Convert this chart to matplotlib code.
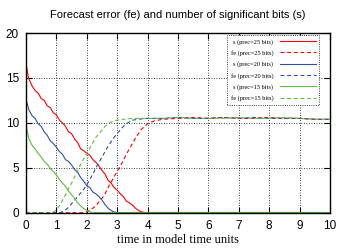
import numpy as np
import matplotlib
matplotlib.use("Agg")
import matplotlib.pyplot as plt

# significant bits (s)
t_s25 = [0, 0.03, 0.08, 0.15, 0.2, 0.3, 0.4, 0.5, 0.6, 0.7, 0.8, 0.9, 1.0, 1.1, 1.2, 1.3, 1.4,
         1.5, 1.6, 1.7, 1.8, 1.9, 2.0, 2.1, 2.2, 2.3, 2.4, 2.5, 2.6, 2.7, 2.8, 2.9, 3.0,
         3.1, 3.2, 3.3, 3.4, 3.5, 3.6, 3.7, 3.8, 3.9, 4.0, 10]
s25 = [16.6, 16.0, 15.0, 14.5, 14.1, 13.6, 13.3, 12.7, 12.5, 11.9, 11.7, 11.1, 10.9, 10.3, 10.0,
       9.6, 9.0, 8.8, 8.2, 7.8, 7.1, 6.9, 6.6, 6.4, 5.9, 5.6, 5.2, 4.7, 4.3, 3.6, 3.3, 2.8,
       2.5, 2.1, 1.8, 1.3, 1.1, 0.85, 0.5, 0.25, 0.1, 0.02, 0, 0]

t_s20 = [0, 0.05, 0.1, 0.2, 0.3, 0.4, 0.5, 0.6, 0.7, 0.8, 0.9, 1.0, 1.1, 1.2, 1.3, 1.4,
         1.5, 1.6, 1.7, 1.8, 1.9, 2.0, 2.1, 2.2, 2.3, 2.4, 2.5, 2.6, 2.7, 2.8, 2.9, 3.0, 10]
s20 = [12.6, 12.0, 11.4, 10.8, 10.5, 9.9, 9.6, 9.0, 8.6, 8.0, 7.7, 7.3, 6.8, 6.5, 5.9, 5.7,
       5.3, 4.8, 4.5, 3.9, 3.5, 3.0, 2.8, 2.3, 2.1, 1.8, 1.4, 0.9, 0.5, 0.25, 0.08, 0, 0]

t_s15 = [0, 0.05, 0.1, 0.2, 0.3, 0.4, 0.5, 0.6, 0.7, 0.8, 0.9, 1.0, 1.1, 1.2, 1.3, 1.4,
         1.5, 1.6, 1.7, 1.8, 1.9, 2.0, 2.1, 2.2, 10]
s15 = [9.8, 8.9, 8.2, 7.5, 7.1, 6.6, 6.2, 5.7, 5.4, 4.9, 4.6, 4.2, 3.7, 3.3, 2.9, 2.4,
       2.0, 1.6, 1.1, 0.75, 0.45, 0.25, 0.1, 0, 0]

# forecast error (fe)
t_fe25 = [0, 1.9, 2.0, 2.1, 2.2, 2.3, 2.4, 2.5, 2.6, 2.7, 2.8, 2.9, 3.0, 3.1, 3.2, 3.3,
          3.4, 3.5, 3.6, 3.7, 3.8, 3.9, 4.0, 4.2, 4.5, 5.0, 5.5, 6.0, 6.5, 7.0, 7.5, 8.0,
          8.5, 9.0, 9.5, 10]
fe25 = [0, 0, 0.1, 0.3, 0.5, 0.8, 1.2, 1.6, 2.1, 2.8, 3.4, 4.0, 4.6, 5.2, 5.8, 6.5, 7.1,
        7.7, 8.3, 8.8, 9.3, 9.6, 9.9, 10.2, 10.4, 10.5, 10.6, 10.5, 10.6, 10.5, 10.5, 10.6,
        10.5, 10.5, 10.4, 10.4]

t_fe20 = [0, 1.1, 1.2, 1.3, 1.4, 1.5, 1.6, 1.7, 1.8, 1.9, 2.0, 2.1, 2.2, 2.3, 2.4, 2.5,
          2.6, 2.7, 2.8, 2.9, 3.0, 3.1, 3.2, 3.3, 3.4, 3.5, 3.7, 4.0, 4.5, 5.0, 5.5, 6.0,
          6.5, 7.0, 7.5, 8.0, 8.5, 9.0, 9.5, 10]
fe20 = [0, 0, 0.1, 0.3, 0.6, 1.0, 1.4, 1.8, 2.2, 2.6, 3.1, 3.7, 4.3, 5.0, 5.6, 6.2, 6.8,
        7.4, 7.9, 8.4, 8.8, 9.2, 9.6, 9.9, 10.1, 10.3, 10.4, 10.5, 10.5, 10.6, 10.5, 10.5,
        10.6, 10.5, 10.6, 10.5, 10.5, 10.5, 10.4, 10.4]

t_fe15 = [0, 0.8, 0.9, 1.0, 1.1, 1.2, 1.3, 1.4, 1.5, 1.6, 1.7, 1.8, 1.9, 2.0, 2.1, 2.2,
          2.3, 2.4, 2.5, 2.6, 2.7, 2.8, 2.9, 3.0, 3.2, 3.5, 4.0, 4.5, 5.0, 5.5, 6.0, 6.5,
          7.0, 7.5, 8.0, 8.5, 9.0, 9.5, 10]
fe15 = [0, 0, 0.05, 0.3, 0.8, 1.4, 2.0, 2.7, 3.3, 4.0, 4.7, 5.4, 6.0, 6.6, 7.2, 7.8, 8.4,
        8.8, 9.2, 9.6, 9.9, 10.1, 10.2, 10.3, 10.4, 10.5, 10.5, 10.5, 10.6, 10.5, 10.5,
        10.5, 10.6, 10.5, 10.5, 10.6, 10.5, 10.4, 10.4]

x_ticks = list(range(0, 11))
y_ticks = [0, 5, 10, 15, 20]

RED = "#ff0000"
BLUE = "#2f4fa8"
GREEN = "#5cbf3c"

fig = plt.figure(figsize=(3.39, 2.48), dpi=100)
ax = fig.add_axes([0.0767, 0.1423, 0.8968, 0.7246])

dash = (0, (3.5, 2.5))
ax.plot(t_s25, s25, color=RED, lw=0.8, label="s (prec=25 bits)")
ax.plot(t_fe25, fe25, color=RED, lw=0.8, ls=dash, label="fe (prec=25 bits)")
ax.plot(t_s20, s20, color=BLUE, lw=0.8, label="s (prec=20 bits)")
ax.plot(t_fe20, fe20, color=BLUE, lw=0.8, ls=dash, label="fe (prec=20 bits)")
ax.plot(t_s15, s15, color=GREEN, lw=0.8, label="s (prec=15 bits)")
ax.plot(t_fe15, fe15, color=GREEN, lw=0.8, ls=dash, label="fe (prec=15 bits)")

ax.set_xlim(0, 10)
ax.set_ylim(0, 20)
ax.set_xticks(x_ticks)
ax.set_yticks(y_ticks)
ax.grid(True, color="black", ls=(0, (1, 2)), lw=0.6)
ax.tick_params(direction="in", top=True, right=True, length=4, width=0.8,
               labelsize=8.5, pad=5)
for lab in ax.get_xticklabels() + ax.get_yticklabels():
    lab.set_family("Liberation Sans")
for sp in ax.spines.values():
    sp.set_linewidth(1.0)

ax.set_title("Forecast error (fe) and number of significant bits (s)",
             fontsize=8, family="Liberation Sans", pad=11)
ax.set_xlabel("time in model time units", fontsize=9, family="Liberation Serif",
              labelpad=2)

leg = ax.legend(loc="upper right", bbox_to_anchor=(0.965, 0.989), markerfirst=False,
                prop={"family": "Liberation Serif", "size": 4.6}, handlelength=5.6,
                labelspacing=0.85, handletextpad=1.0, borderpad=0.6, borderaxespad=0,
                fancybox=False, framealpha=1, edgecolor="black")
leg.get_frame().set_linestyle(":")
leg.get_frame().set_linewidth(0.6)
for txt in leg.get_texts():
    txt.set_ha("right")

fig.savefig("out.png", dpi=100)
